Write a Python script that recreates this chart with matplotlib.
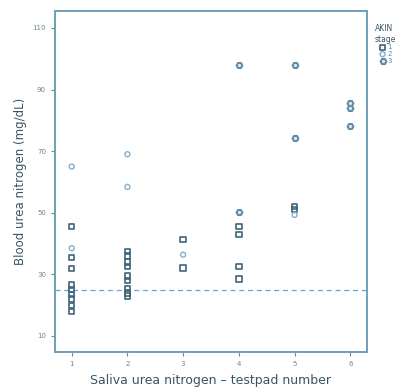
import matplotlib
matplotlib.use("Agg")
import matplotlib.pyplot as plt

# testpad number vs blood urea nitrogen, grouped by AKIN stage
stage1_x = [1, 1, 1, 1, 1, 1, 1, 1, 1,
            2, 2, 2, 2, 2, 2, 2, 2, 2,
            3, 3,
            4, 4, 4, 4,
            5, 5]
stage1_y = [45.5, 35.5, 32, 26.5, 25, 23.5, 22, 20, 18,
            37.5, 36, 34, 32.5, 29.5, 28, 25.5, 24, 23,
            41.3, 32.1,
            45.6, 43, 32.5, 28.5,
            52, 51]

stage2_x = [1, 1, 2, 2, 3, 5]
stage2_y = [65, 38.5, 69, 58.4, 36.4, 49.3]

stage3_x = [4, 4, 5, 5, 6, 6, 6]
stage3_y = [98, 50.2, 98, 74.4, 85.5, 84, 78.2]

threshold = 25
xticks = [1, 2, 3, 4, 5, 6]
yticks = [10, 30, 50, 70, 90, 110]

spine_col = "#6f9fba"
fig = plt.figure(figsize=(4, 3.87), dpi=100)
ax = fig.add_axes([0.1375, 0.0904, 0.78, 0.8812])

ax.scatter(stage1_x, stage1_y, marker="s", s=15, facecolors="none",
           edgecolors="#3e6479", linewidths=1.2, label="1", zorder=3)
ax.scatter(stage2_x, stage2_y, marker="o", s=13, facecolors="none",
           edgecolors="#80b0cc", linewidths=1.0, label="2", zorder=3)
ax.scatter(stage3_x, stage3_y, marker="H", s=18, facecolors="#dde8ee",
           edgecolors="#5b8aa6", linewidths=1.4, label="3", zorder=3)

ax.axhline(threshold, color="#5aaad8", linestyle=(0, (4, 3)), linewidth=0.9)

ax.set_xlim(0.7, 6.3)
ax.set_ylim(4.8, 115.5)
ax.set_xticks(xticks)
ax.set_yticks(yticks)
ax.tick_params(labelsize=5, colors="#6a8596", length=3, width=0.8)
for s in ax.spines.values():
    s.set_color(spine_col)
    s.set_linewidth(1.4)

ax.set_xlabel("Saliva urea nitrogen \u2013 testpad number", fontsize=9,
              color="#3a5566", labelpad=5)
ax.set_ylabel("Blood urea nitrogen (mg/dL)", fontsize=8.5,
              color="#3a5566", labelpad=4)

leg = fig.legend(title="AKIN\nstage", loc="upper left",
                 bbox_to_anchor=(0.925, 0.95), frameon=False,
                 fontsize=5, title_fontsize=5.5, handletextpad=0.2,
                 labelspacing=0.1, borderpad=0.2, handlelength=1)
leg.get_title().set_color("#3a5566")
for t in leg.get_texts():
    t.set_color("#5a8aa6")

fig.savefig("out.png", dpi=100)
